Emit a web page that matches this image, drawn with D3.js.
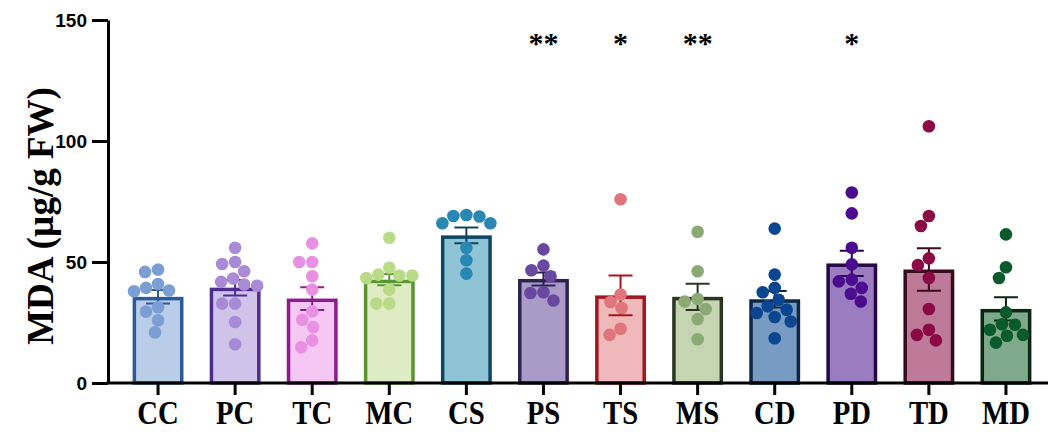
<!DOCTYPE html>
<html>
<head>
<meta charset="utf-8">
<script src="https://cdn.jsdelivr.net/npm/d3@7"></script>
<style>
  body { margin: 0; background: #fff; }
  svg { display: block; }
</style>
</head>
<body>
<script>
// groups, bar means, SEM and individual points
const groups = ["CC", "PC", "TC", "MC", "CS", "PS", "TS", "MS", "CD", "PD", "TD", "MD"];
const means = [35.6, 39.4, 34.9, 42.7, 61.0, 43.0, 36.2, 35.6, 34.6, 49.4, 46.9, 30.6];
const sems = [2.8, 3.2, 4.7, 2.3, 3.3, 2.7, 8.2, 5.4, 3.4, 5.2, 8.8, 4.8];
const points = [
  [45.9, 46.9, 39.3, 37.9, 38.2, 40.9, 31.3, 29.5, 25.9, 20.9],
  [55.9, 50.0, 49.2, 46.2, 43.2, 40.7, 41.8, 40.2, 32.8, 32.8, 25.2, 16.0],
  [57.7, 50.0, 50.0, 44.1, 38.6, 29.6, 26.1, 23.1, 17.6, 14.8],
  [60.0, 47.6, 43.4, 44.8, 44.4, 44.4, 38.6, 32.8, 32.8],
  [66.0, 68.8, 66.0, 69.0, 69.4, 55.9, 50.7, 45.2],
  [55.2, 46.6, 48.5, 44.1, 37.5, 37.2, 34.1],
  [75.9, 36.6, 33.5, 31.0, 22.4, 19.9],
  [62.5, 46.2, 33.7, 34.7, 30.6, 26.4, 18.1],
  [63.8, 44.8, 39.3, 37.5, 34.4, 31.7, 30.3, 28.9, 27.3, 25.4, 18.5],
  [78.7, 70.1, 55.9, 49.0, 42.0, 42.7, 33.7, 36.9, 39.3],
  [106.1, 69.0, 64.9, 51.5, 48.7, 43.4, 30.6, 22.0, 17.6, 19.9],
  [61.4, 47.8, 43.4, 29.2, 24.1, 22.0, 24.3, 19.5, 19.9, 16.7]
];
const stars = ["", "", "", "", "", "**", "*", "**", "", "*", "", ""];
const yTicks = [0, 50, 100, 150];

const fills   = ["#b9cce8", "#d0c3ea", "#f4c8f2", "#deecc3", "#8fc4d6", "#a99ac8", "#efb8ba", "#c5d5b2", "#789bc3", "#9b7cc0", "#c07a99", "#7eaa8b"];
const strokes = ["#2d5a9b", "#4e2d91", "#8e1c8c", "#5a9630", "#0e4561", "#2c2250", "#a3151f", "#2b3526", "#0d2847", "#240846", "#380a1e", "#0b2614"];
const dots    = ["#7b9fd5", "#a88ad6", "#e891e2", "#b9da87", "#2887b3", "#68499f", "#e0767c", "#8ba974", "#0c4590", "#4b0c8f", "#8b0a45", "#0a5a2c"];

const W = 1048, H = 432;
const axisX = 108, plotTop = 20, plotBottom = 383;

const svg = d3.select("body").append("svg")
  .attr("width", W)
  .attr("height", H);

const y = d3.scaleLinear().domain([0, 150]).range([plotBottom, plotTop]);
const x = d3.scaleBand().domain(groups).range([119.5, 1044.5])
  .paddingInner(0.34).paddingOuter(0.17);

const bw = x.bandwidth();
const sw = 3.5;
const r = 6.3;

// simple beeswarm so dots sit side by side like in Prism
function swarm(vals) {
  const out = new Array(vals.length);
  const placed = [];
  const order = vals.map((v, i) => i).sort((a, b) => vals[b] - vals[a]);
  const cands = [0];
  for (let k = 1; k <= 30; k++) { cands.push(-k, k); }
  order.forEach(i => {
    const py = y(vals[i]);
    let dx = 0;
    for (const c of cands) {
      const ok = placed.every(p => (p.x - c) ** 2 + (p.y - py) ** 2 >= (2 * r - 0.2) ** 2);
      if (ok) { dx = c; break; }
    }
    placed.push({ x: dx, y: py });
    out[i] = dx;
  });
  return out;
}

const g = svg.selectAll(".grp")
  .data(groups)
  .enter().append("g")
  .attr("class", "grp")
  .attr("transform", d => `translate(${x(d)},0)`);

g.append("rect")
  .attr("x", sw / 2)
  .attr("width", bw - sw)
  .attr("y", (d, i) => y(means[i]) + sw / 2)
  .attr("height", (d, i) => plotBottom - y(means[i]) - sw / 2)
  .attr("fill", (d, i) => fills[i])
  .attr("stroke", (d, i) => strokes[i])
  .attr("stroke-width", sw);

// error bars (mean ± SEM)
const cap = 12;
g.append("path")
  .attr("d", (d, i) => {
    const c = bw / 2, hi = y(means[i] + sems[i]), lo = y(means[i] - sems[i]);
    return `M${c},${hi}V${lo}M${c - cap},${hi}H${c + cap}M${c - cap},${lo}H${c + cap}`;
  })
  .attr("fill", "none")
  .attr("stroke", (d, i) => strokes[i])
  .attr("stroke-width", 2);

g.each(function (d, i) {
  const offs = swarm(points[i]);
  d3.select(this).selectAll("circle")
    .data(points[i])
    .enter().append("circle")
    .attr("cx", (v, j) => bw / 2 + offs[j])
    .attr("cy", v => y(v))
    .attr("r", r)
    .attr("fill", dots[i]);
});

// significance stars
svg.selectAll(".star")
  .data(groups)
  .enter().append("text")
  .attr("class", "star")
  .attr("x", d => x(d) + bw / 2)
  .attr("y", 53)
  .attr("text-anchor", "middle")
  .style("font-family", "'Liberation Serif', 'Times New Roman', serif")
  .style("font-weight", "bold")
  .style("font-size", "30px")
  .text((d, i) => stars[i]);

// y axis
const yAxis = svg.append("g")
  .attr("transform", `translate(${axisX},0)`)
  .call(d3.axisLeft(y).tickValues(yTicks).tickSize(16).tickSizeOuter(0).tickPadding(5));
yAxis.select(".domain").attr("stroke-width", 3).attr("stroke", "#000");
yAxis.selectAll(".tick line").attr("stroke-width", 3);
yAxis.selectAll(".tick text")
  .style("font-family", "'Liberation Sans', Arial, sans-serif")
  .style("font-weight", "bold")
  .style("font-size", "19px")
  .attr("fill", "#000");

// x axis
const xAxis = svg.append("g")
  .attr("transform", `translate(0,${plotBottom})`)
  .call(d3.axisBottom(x).tickSize(12).tickSizeOuter(0));
xAxis.select(".domain").remove();
xAxis.append("line")
  .attr("x1", axisX - 1.5).attr("x2", W)
  .attr("stroke", "#000").attr("stroke-width", 3);
xAxis.selectAll(".tick line").attr("stroke-width", 3);
xAxis.selectAll(".tick text")
  .attr("y", 0).attr("dy", null)
  .attr("transform", "translate(0,41) scale(0.87,1)")
  .style("font-family", "'Liberation Serif', 'Times New Roman', serif")
  .style("font-weight", "bold")
  .style("font-size", "33px")
  .attr("fill", "#000");

// y title
svg.append("text")
  .attr("transform", `translate(53,216) rotate(-90)`)
  .attr("text-anchor", "middle")
  .style("font-family", "'Liberation Serif', 'Times New Roman', serif")
  .style("font-weight", "bold")
  .style("font-size", "37px")
  .text("MDA (µg/g FW)");
</script>
</body>
</html>
